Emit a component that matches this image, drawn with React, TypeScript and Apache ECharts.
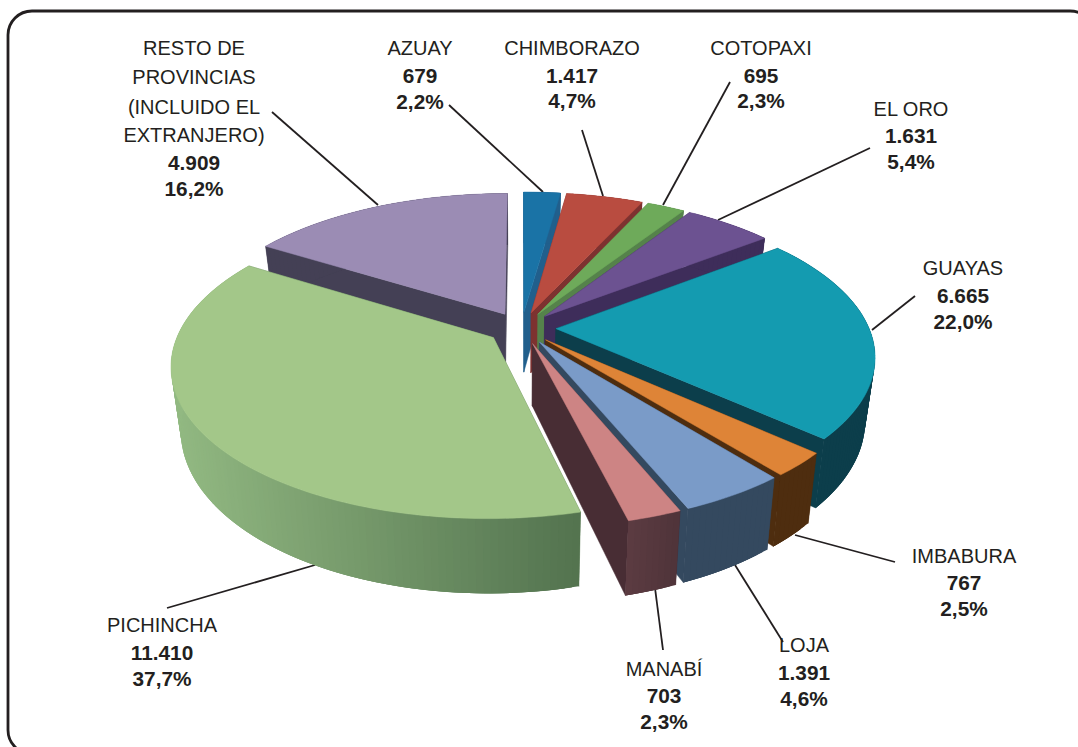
import React, { useEffect, useRef } from "react";
import * as echarts from "echarts";

const categories = ["AZUAY", "CHIMBORAZO", "COTOPAXI", "EL ORO", "GUAYAS", "IMBABURA", "LOJA", "MANABÍ", "PICHINCHA", "RESTO DE PROVINCIAS (INCLUIDO EL EXTRANJERO)"];
const values = [679, 1417, 695, 1631, 6665, 767, 1391, 703, 11410, 4909];
const valueLabels = ["679", "1.417", "695", "1.631", "6.665", "767", "1.391", "703", "11.410", "4.909"];
const shareLabels = ["2,2%", "4,7%", "2,3%", "5,4%", "22,0%", "2,5%", "4,6%", "2,3%", "37,7%", "16,2%"];
const nameLines = [["AZUAY"], ["CHIMBORAZO"], ["COTOPAXI"], ["EL ORO"], ["GUAYAS"], ["IMBABURA"], ["LOJA"], ["MANABÍ"], ["PICHINCHA"], ["RESTO DE", "PROVINCIAS", "(INCLUIDO EL", "EXTRANJERO)"]];

// styles
const topColors = ["#1a73a6", "#b94c40", "#6eaa5a", "#6c5291", "#149bb0", "#de8437", "#7a9bc8", "#cd8484", "#a3c789", "#9b8cb4"];
const wallColors = ["#215f8c", "#7d3230", "#55824b", "#3e2d5a", "#0c3e4b", "#4e2d0f", "#34495f", "#482d34", "#5a7c55", "#444055"];
const rimStart = [[33, 95, 140], [125, 50, 48], [85, 130, 75], [62, 45, 90], [12, 62, 75], [78, 45, 15], [52, 73, 95], [92, 60, 66], [146, 185, 130], [68, 64, 85]];
const rimEnd = [[33, 95, 140], [125, 50, 48], [85, 130, 75], [62, 45, 90], [12, 62, 75], [78, 45, 15], [52, 73, 95], [79, 52, 57], [83, 115, 79], [68, 64, 85]];
// paint order: far to near
const drawOrder = [9, 0, 1, 2, 3, 4, 5, 6, 7, 8];

// projection
const CX = 521.5, CY = 328, RX = 313, RY = 146, P = 0.173, EXPLODE = 0.11, DEPTH = 61, BOTTOM_SCALE = 0.972;

const total = values.reduce((a, b) => a + b, 0);
const cumulative: number[] = [];
values.reduce((acc, v, i) => { cumulative[i] = acc; return acc + v; }, 0);

function project(X: number, Y: number, low: boolean): number[] {
  const s = 1 / (1 + P * Y);
  const x = RX * X * s, y = -RY * Y * s;
  if (!low) return [CX + x, CY + y];
  return [CX + x * BOTTOM_SCALE, CY + y + DEPTH * s];
}

function renderSlice(params: any) {
  const i = drawOrder[params.dataIndex];
  const a0 = (cumulative[i] / total) * Math.PI * 2;
  const a1 = ((cumulative[i] + values[i]) / total) * Math.PI * 2;
  const mid = (a0 + a1) / 2;
  const ox = EXPLODE * Math.sin(mid), oy = EXPLODE * Math.cos(mid);
  const steps = Math.max(4, Math.ceil((a1 - a0) / 0.02));
  const topArc: number[][] = [], lowArc: number[][] = [];
  for (let k = 0; k <= steps; k++) {
    const a = a0 + ((a1 - a0) * k) / steps;
    topArc.push(project(ox + Math.sin(a), oy + Math.cos(a), false));
    lowArc.push(project(ox + Math.sin(a), oy + Math.cos(a), true));
  }
  const tipTop = project(ox, oy, false), tipLow = project(ox, oy, true);
  const n = topArc.length - 1;
  const wall = (pts: number[][]) => ({ type: "polygon", shape: { points: pts }, style: { fill: wallColors[i], stroke: wallColors[i], lineWidth: 0.5 } });
  const xs = topArc.map((p) => p[0]);
  const minX = Math.min(...xs), maxX = Math.max(...xs);
  const rim: any[] = [];
  for (let k = 0; k < n; k++) {
    const t = ((topArc[k][0] + topArc[k + 1][0]) / 2 - minX) / (maxX - minX || 1);
    const c = rimStart[i].map((v, j) => Math.round(v + (rimEnd[i][j] - v) * t));
    const e = Math.min(k + 3, n);
    rim.push({
      type: "polygon",
      shape: { points: [topArc[k], topArc[e], lowArc[e], lowArc[k]] },
      style: { fill: `rgb(${c[0]},${c[1]},${c[2]})` },
    });
  }
  return {
    type: "group",
    children: [
      wall([tipTop, topArc[0], lowArc[0], tipLow]),
      wall([tipTop, topArc[n], lowArc[n], tipLow]),
      ...rim,
      {
        type: "polygon",
        shape: { points: [tipTop].concat(topArc) },
        style: { fill: topColors[i], stroke: topColors[i], lineWidth: 0.5 },
      },
    ],
  };
}

// annotation layout, by category index: text centre x, line centre ys, leader line
const labelX = [420, 572, 761, 911, 963, 964, 804, 664, 162, 194];
const labelY = [[48, 75, 101], [48, 75, 100], [48, 75, 100], [109, 135, 161], [268, 295, 321], [556, 582, 608], [645, 672, 698], [669, 695, 721], [625, 652, 678], [48, 77, 107, 135, 162, 188]];
const leaders = [
  [449, 105, 543, 192], [582, 130, 603, 196], [730, 82, 663, 205], [870, 148, 718, 220], [915, 296, 872, 330],
  [895, 562, 795, 535], [783, 642, 735, 565], [663, 650, 655, 588], [167, 608, 315, 565], [272, 112, 378, 205],
];

const FONT = '"Liberation Sans", Arial, sans-serif';
const INK = "#231f20";

function annotations() {
  const out: any[] = [
    { type: "rect", z: 0, shape: { x: 8, y: 11, width: 1086, height: 743, r: 24 }, style: { fill: "none", stroke: INK, lineWidth: 2.8 } },
  ];
  categories.forEach((_, i) => {
    const l = leaders[i];
    out.push({ type: "line", z: 0, shape: { x1: l[0], y1: l[1], x2: l[2], y2: l[3] }, style: { stroke: INK, lineWidth: 1.8 } });
    const lines = nameLines[i].map((t) => ({ t, bold: false })).concat([{ t: valueLabels[i], bold: true }, { t: shareLabels[i], bold: true }]);
    lines.forEach((ln, k) => {
      out.push({
        type: "text", z: 5, x: labelX[i], y: labelY[i][k],
        style: { text: ln.t, fill: INK, font: ln.bold ? `bold 20.8px ${FONT}` : `20px ${FONT}`, align: "center", verticalAlign: "middle" },
      });
    });
  });
  return out;
}

export default function App() {
  const ref = useRef<HTMLDivElement>(null);
  useEffect(() => {
    const chart = echarts.init(ref.current!, undefined, { renderer: "svg" });
    chart.setOption({
      animation: false,
      backgroundColor: "#ffffff",
      graphic: { elements: annotations() },
      series: [
        {
          type: "custom",
          coordinateSystem: "none",
          z: 2,
          silent: true,
          renderItem: renderSlice,
          data: drawOrder.map((i) => ({ name: categories[i], value: values[i] })),
        },
      ],
    });
    return () => chart.dispose();
  }, []);
  return <div ref={ref} style={{ position: "absolute", left: 0, top: 0, width: 1078, height: 747 }} />;
}
